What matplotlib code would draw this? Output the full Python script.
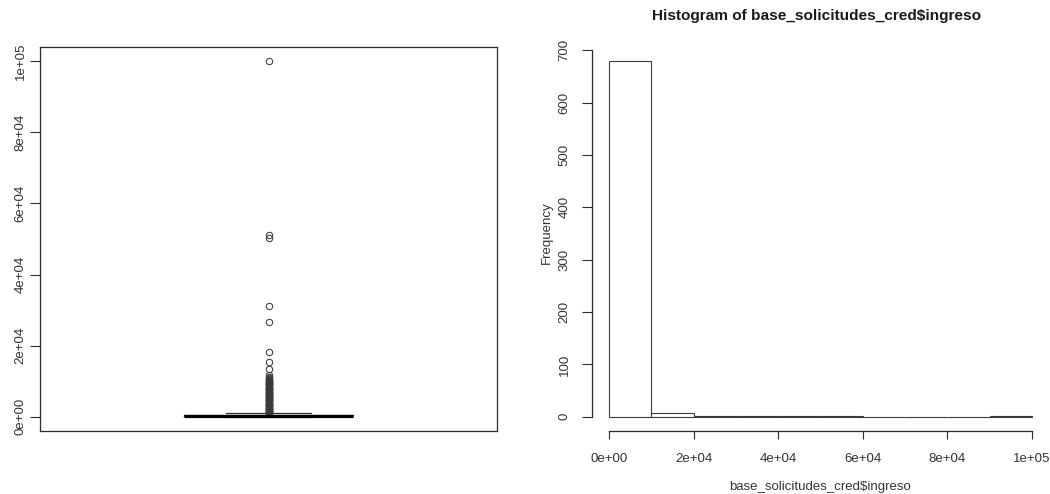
import matplotlib
matplotlib.use("Agg")
import matplotlib.pyplot as plt
from matplotlib.ticker import FixedLocator, FixedFormatter

# ---------------- data ----------------
# boxplot summary of ingreso
box_q1 = 80
box_median = 230
box_q3 = 430
box_whislo = 0
box_whishi = 950
box_fliers = [100000, 51000, 50200, 31200, 26700, 18200, 15300, 13500,
              11700, 11100, 10800, 10600, 10400, 10300, 10100, 9900, 9750,
              9600, 9400, 9300, 9100, 8900, 8800, 8700, 8500, 8300, 8150,
              7900, 7800, 7700, 7500, 7400, 7250, 7100, 6950, 6800, 6700,
              6600, 6400, 6200, 6050, 5900, 5800, 5700, 5550, 5400, 5250,
              5100, 5000, 4800, 4700, 4600, 4450, 4300, 4100, 3900, 3800,
              3700, 3550, 3400, 3250, 3100, 3000, 2900, 2750, 2600, 2450,
              2300, 2200, 2100, 2000, 1900, 1750, 1600, 1500, 1400, 1300,
              1200, 1100, 1050, 1000]

# histogram of ingreso
hist_edges = [0, 10000, 20000, 30000, 40000, 50000, 60000, 70000, 80000, 90000, 100000]
hist_counts = [679, 7, 1, 1, 1, 1, 0, 0, 0, 1]

box_yticks = [0, 20000, 40000, 60000, 80000, 100000]
box_yticklabels = ["0e+00", "2e+04", "4e+04", "6e+04", "8e+04", "1e+05"]
hist_xticks = [0, 20000, 40000, 60000, 80000, 100000]
hist_xticklabels = ["0e+00", "2e+04", "4e+04", "6e+04", "8e+04", "1e+05"]
hist_yticks = [0, 100, 200, 300, 400, 500, 600, 700]
hist_yticklabels = ["0", "100", "200", "300", "400", "500", "600", "700"]

title_text = "Histogram of base_solicitudes_cred$ingreso"
xlabel_text = "base_solicitudes_cred$ingreso"
ylabel_text = "Frequency"

# ---------------- style ----------------
plt.rcParams['font.family'] = ['Liberation Sans', 'DejaVu Sans']
LINE = "#2b2b2b"
TXT = "#333333"
FS = 9.5

W, H = 1050, 494
fig = plt.figure(figsize=(W / 100, H / 100), dpi=100)
fig.patch.set_facecolor("white")


def frac(x0, y0, x1, y1):
    return [x0 / W, 1 - y1 / H, (x1 - x0) / W, (y1 - y0) / H]


# ---------------- boxplot ----------------
ax1 = fig.add_axes(frac(40, 47, 497, 431))
stats = [dict(med=box_median, q1=box_q1, q3=box_q3,
              whislo=box_whislo, whishi=box_whishi, fliers=box_fliers)]
ax1.bxp(stats, positions=[1.0], widths=0.37, showfliers=True,
        boxprops=dict(color=LINE, linewidth=0.9),
        medianprops=dict(color="black", linewidth=2.3),
        whiskerprops=dict(color=LINE, linewidth=0.9, linestyle="--"),
        capprops=dict(color=LINE, linewidth=0.9),
        capwidths=0.185,
        flierprops=dict(marker="o", markersize=4.6, markerfacecolor="none",
                        markeredgecolor="#3a3a3a", markeredgewidth=0.75))
ax1.set_xlim(0.5, 1.5)
ax1.set_ylim(-4000, 104000)
ax1.set_xticks([])
ax1.yaxis.set_major_locator(FixedLocator(box_yticks))
ax1.yaxis.set_major_formatter(FixedFormatter(box_yticklabels))
ax1.tick_params(axis="y", length=7, width=0.8, color=LINE, labelcolor=TXT,
                labelsize=FS, pad=2.5)
for lab in ax1.get_yticklabels():
    lab.set_rotation(90)
    lab.set_va("center")
for s in ax1.spines.values():
    s.set_color(LINE)
    s.set_linewidth(0.9)

# ---------------- histogram ----------------
ax2 = fig.add_axes(frac(592, 47, 1049, 431))
widths = [hist_edges[i + 1] - hist_edges[i] for i in range(len(hist_counts))]
ax2.bar(hist_edges[:-1], hist_counts, width=widths, align="edge",
        facecolor="white", edgecolor="#3c3c3c", linewidth=0.8)
ax2.set_xlim(-4000, 104000)
ax2.set_ylim(-27.16, 706.16)
ax2.xaxis.set_major_locator(FixedLocator(hist_xticks))
ax2.xaxis.set_major_formatter(FixedFormatter(hist_xticklabels))
ax2.yaxis.set_major_locator(FixedLocator(hist_yticks))
ax2.yaxis.set_major_formatter(FixedFormatter(hist_yticklabels))
ax2.tick_params(axis="x", length=6, width=0.8, color=LINE, labelcolor=TXT,
                labelsize=FS, pad=9.5)
ax2.tick_params(axis="y", length=7, width=0.8, color=LINE, labelcolor=TXT,
                labelsize=FS, pad=8.4)
for lab in ax2.get_yticklabels():
    lab.set_rotation(90)
    lab.set_va("center")
for side in ("top", "right"):
    ax2.spines[side].set_visible(False)
ax2.spines["left"].set_bounds(0, 700)
ax2.spines["bottom"].set_bounds(0, 100000)
for side in ("left", "bottom"):
    ax2.spines[side].set_color(LINE)
    ax2.spines[side].set_linewidth(0.9)

fig.text(816 / W, 1 - 16 / H, title_text, ha="center", va="center",
         fontsize=11.1, fontweight="bold", color="#1a1a1a")
fig.text(820 / W, 1 - 487 / H, xlabel_text, ha="center", va="center",
         fontsize=FS, color=TXT)
fig.text(546.7 / W, 1 - 233 / H, ylabel_text, ha="center", va="center",
         rotation=90, fontsize=FS, color=TXT)

fig.savefig("out.png", dpi=100, facecolor="white")
